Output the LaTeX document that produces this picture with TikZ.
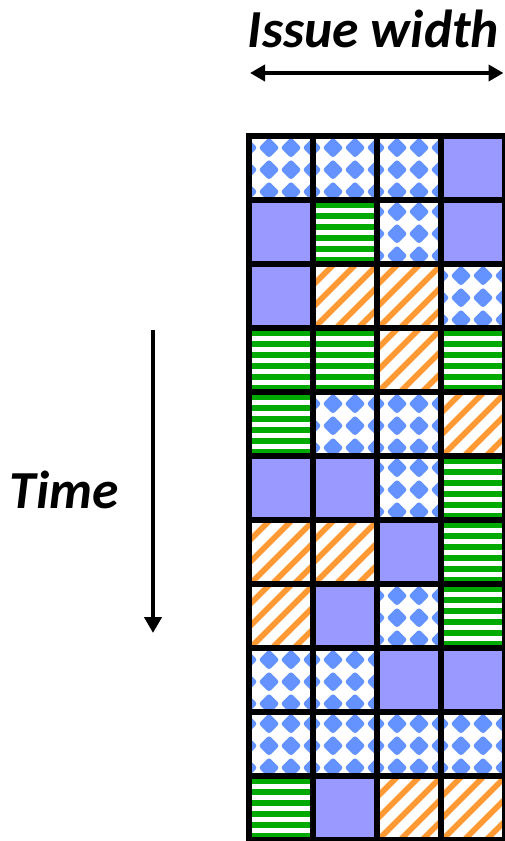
\documentclass[tikz,border=0pt]{standalone}
\usepackage{fontspec}
\setmainfont{Carlito}
\usetikzlibrary{arrows.meta}
\definecolor{purp}{RGB}{153,153,255}
\definecolor{dblue}{RGB}{100,146,255}
\definecolor{grn}{RGB}{0,170,0}
\definecolor{orng}{RGB}{255,153,51}
\newcommand\patD{%
  \foreach \i in {-1,...,3}{\foreach \j in {-1,...,3}{%
    \fill[dblue,rounded corners=2.5pt] ({20+22*\i},{11.7+22*\j}) +(-10.3,0) -- +(0,-10.3) -- +(10.3,0) -- +(0,10.3) -- cycle;}}}
\newcommand\patO{%
  \foreach \k in {-1,...,7}{%
    \fill[orng] ({1+22*\k-4},-2) -- ({1+22*\k+4},-2) -- ({1+22*\k+4-72},70) -- ({1+22*\k-4-72},70) -- cycle;}}
\newcommand\patG{%
  \foreach \k in {0,...,5}{%
    \fill[grn] (-2,{2.3+11*\k}) rectangle (70,{2.3+11*\k+5.7});}}
\newcommand\patP{}
\tikzset{
  cellbase/.style={minimum width=64pt, minimum height=64pt, inner sep=0pt, outer sep=0pt},
  cellP/.style={cellbase, fill=purp},
  cellD/.style={cellbase, fill=white},
  cellO/.style={cellbase, fill=white},
  cellG/.style={cellbase, fill=white},
  gridline/.style={line width=6pt, draw=black},
  axisline/.style={line width=4.5pt, draw=black},
  lbl/.style={font=\fontsize{53.5}{60}\selectfont\bfseries\itshape, inner sep=0pt},
}
\begin{document}
\begin{tikzpicture}[x=1pt,y=-1pt]
\useasboundingbox (0,0) rectangle (504,841);
\fill[white] (0,0) rectangle (504,841);
% cells
\foreach \row [count=\rr from 0] in {{D,D,D,P},{P,G,D,P},{P,O,O,D},{G,G,O,G},{G,D,D,O},{P,P,D,G},{O,O,P,G},{O,P,D,G},{D,D,P,P},{D,D,D,D},{G,P,O,O}}{
  \foreach \t [count=\cc from 0] in \row {
    \node[cell\t] (cell-\rr-\cc) at ({281+64*\cc},{168+64*\rr}) {};
    \begin{scope}
      \clip (cell-\rr-\cc.north west) rectangle (cell-\rr-\cc.south east);
      \begin{scope}[shift={(cell-\rr-\cc.north west)}]
        \csname pat\t\endcsname
      \end{scope}
    \end{scope}
  }
}
% grid lines
\foreach \rr in {0,...,10}{
  \foreach \cc in {0,...,3}{
    \draw[gridline] (cell-\rr-\cc.north west) rectangle (cell-\rr-\cc.south east);
  }
}
% labels
\node[lbl, anchor=base] (issue) at (373.5,47) {Issue width};
\node[lbl, anchor=base] (time) at (64,508) {Time};
% arrows
\coordinate (iwL) at (250,73);
\coordinate (iwR) at (503.5,73);
\draw[axisline, {Triangle[length=15pt,width=16pt]}-{Triangle[length=15pt,width=16pt]}] (iwL) -- (iwR);
\coordinate (tTop) at (153,330);
\coordinate (tBot) at (153,633);
\draw[axisline, -{Triangle[length=16pt,width=17pt]}] (tTop) -- (tBot);
\end{tikzpicture}
\end{document}
